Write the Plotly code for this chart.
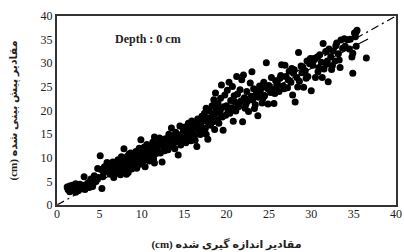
import plotly.graph_objects as go

pts = [
 (1.2,3.8),(1.3,3.3),(1.4,3.6),(1.5,4.0),(1.6,3.1),(1.7,3.7),(1.8,4.2),(1.9,3.4),(1.5,2.8),
 (2.0,3.9),(2.1,3.2),(2.2,4.5),(2.3,3.6),(2.4,4.1),(2.5,3.0),(2.6,3.8),(2.7,4.4),(2.8,3.4),(2.9,3.9),(2.2,2.7),
 (3.0,3.6),(3.1,4.2),(3.2,6.0),(3.3,3.3),(3.5,3.9),(3.6,4.6),(3.8,3.7),(3.9,5.0),
 (4.0,5.5),(4.2,3.9),(4.4,6.2),(4.6,5.0),(4.8,7.7),(4.9,5.8),(4.3,4.6),
 (5.1,10.4),(5.3,3.5),(5.2,7.5),(5.5,6.8),(5.6,8.1),(5.8,7.3),(5.9,9.0),(5.4,6.0),
 (6.0,7.6),(6.2,8.5),(6.3,6.5),(6.5,7.9),(6.6,9.1),(6.7,5.8),(6.8,8.3),(6.9,7.1),(6.4,8.9),
 (7.0,8.8),(7.1,6.7),(7.2,9.6),(7.3,7.8),(7.4,8.4),(7.5,6.4),(7.6,10.2),(7.7,9.0),(7.8,7.4),(7.9,11.9),(7.5,8.0),(7.8,8.6),
 (8.0,9.5),(8.1,7.1),(8.2,8.2),(8.3,10.3),(8.4,6.9),(8.5,9.0),(8.6,8.0),(8.7,11.0),(8.8,7.6),(8.9,9.8),(8.2,6.5),(8.5,10.8),
 (9.0,8.4),(9.1,10.1),(9.2,9.2),(9.3,11.3),(9.4,7.8),(9.5,10.6),(9.6,9.0),(9.7,12.0),(9.8,10.0),(9.9,13.8),(9.5,8.3),
 (10.0,8.7),(10.1,11.4),(10.2,10.3),(10.3,12.3),(10.4,9.5),(10.5,11.0),(10.6,12.8),(10.7,10.0),(10.8,11.8),(10.9,9.3),(10.4,8.1),
 (11.0,12.5),(11.1,10.7),(11.2,11.7),(11.3,13.3),(11.4,9.8),(11.5,14.4),(11.6,12.0),(11.7,10.9),(11.8,13.0),(11.9,11.4),(11.5,8.9),
 (12.0,12.6),(12.1,14.2),(12.2,11.0),(12.4,9.1),(12.5,13.4),(12.6,12.1),(12.7,11.5),(12.8,14.0),(12.9,12.9),(12.3,13.8),
 (13.0,13.1),(13.1,11.7),(13.2,15.0),(13.3,12.4),(13.5,16.3),(13.6,13.6),(13.7,12.8),(13.8,14.6),(13.9,11.9),(13.4,14.0),
 (14.0,15.4),(14.1,13.4),(14.3,10.6),(14.4,14.3),(14.5,16.7),(14.6,12.7),(14.7,15.0),(14.8,13.9),(14.9,16.1),(14.2,14.8),
 (15.0,14.4),(15.1,16.5),(15.2,13.2),(15.3,15.5),(15.5,17.3),(15.6,14.1),(15.7,16.0),(15.8,13.6),(15.9,17.8),(15.4,15.0),
 (16.0,15.2),(16.1,17.0),(16.2,14.6),(16.3,16.4),(16.5,12.4),(16.6,18.2),(16.7,15.8),(16.8,17.5),(16.9,14.9),(16.4,16.9),(16.3,13.7),
 (17.0,16.6),(17.1,18.8),(17.2,15.4),(17.3,17.9),(17.5,16.2),(17.6,20.5),(17.7,18.4),(17.8,13.9),(17.9,17.1),(17.4,19.4),(17.6,15.0),
 (18.0,19.9),(18.1,16.9),(18.2,18.6),(18.3,21.0),(18.4,17.6),(18.5,19.2),(18.6,16.0),(18.7,23.7),(18.8,20.3),(18.9,18.0),(18.5,22.3),
 (19.0,21.5),(19.1,17.3),(19.2,19.6),(19.3,22.6),(19.4,25.4),(19.5,18.6),(19.6,15.8),(19.7,20.8),(19.8,23.3),(19.9,19.0),(19.3,20.2),
 (20.0,21.0),(20.1,24.3),(20.3,26.0),(20.4,19.4),(20.5,22.1),(20.6,20.6),(20.8,17.7),(20.9,23.1),(20.2,20.0),(20.7,25.1),
 (21.0,21.8),(21.1,19.9),(21.2,27.2),(21.3,23.5),(21.4,20.8),(21.6,24.4),(21.7,22.0),(21.9,17.6),(21.8,26.5),(21.5,21.0),
 (22.0,27.5),(22.1,22.7),(22.2,20.5),(22.4,24.0),(22.5,22.0),(22.6,19.8),(22.8,25.8),(22.9,23.0),(22.3,21.4),(22.7,22.5),
 (23.0,28.2),(23.1,22.2),(23.2,24.6),(23.4,21.2),(23.5,23.5),(23.7,18.9),(23.8,22.8),(23.9,25.2),(23.3,20.4),(23.6,23.9),
 (24.0,24.2),(24.2,21.6),(24.4,26.0),(24.5,23.1),(24.7,30.1),(24.8,24.8),(24.9,21.4),(24.3,22.6),(24.6,25.0),
 (25.0,25.3),(25.2,23.8),(25.4,24.5),(25.6,21.5),(25.8,26.3),(25.9,25.0),(25.3,27.0),(25.7,23.6),
 (26.0,25.8),(26.2,24.0),(26.4,27.4),(26.5,29.7),(26.7,25.2),(26.9,29.6),(26.3,26.8),(26.8,24.6),
 (27.0,27.2),(27.2,24.8),(27.4,28.3),(27.6,26.0),(27.8,23.3),(27.9,27.9),(27.3,26.5),(27.7,28.9),
 (28.0,28.6),(28.1,21.8),(28.3,27.0),(28.5,32.3),(28.6,26.2),(28.8,29.4),(28.9,28.0),(28.4,25.0),
 (29.0,29.2),(29.1,24.9),(29.3,28.4),(29.5,30.5),(29.6,27.2),(29.8,29.9),(29.9,31.0),(29.4,26.8),
 (30.0,24.2),(30.2,29.6),(30.4,30.8),(30.5,27.0),(30.7,31.3),(30.9,29.0),(30.3,31.0),(30.8,28.2),
 (31.0,31.8),(31.2,30.2),(31.4,34.2),(31.5,28.8),(31.7,32.5),(31.9,30.5),(31.3,27.0),(31.8,29.8),
 (32.0,26.1),(32.1,33.0),(32.3,31.4),(32.5,29.5),(32.6,32.6),(32.8,30.5),(32.9,33.7),(32.4,28.7),
 (33.0,34.3),(33.2,32.0),(33.4,29.1),(33.5,34.9),(33.7,33.2),(33.9,35.2),(33.3,30.7),
 (34.0,33.6),(34.3,35.0),(34.6,35.1),(34.9,27.9),(34.8,31.3),(34.9,32.1),(34.5,33.0),
 (35.1,36.4),(35.3,36.6),(35.4,37.0),(35.3,33.6),(36.5,31.1),(35.2,35.6),
]
measured = [p[0] for p in pts]
predicted = [p[1] for p in pts]

# 1:1 line and fitted line endpoints
one_to_one_x = [0, 40]
one_to_one_y = [0, 40]
fit_x = [1.5, 36.7]
fit_slope = 0.93
fit_intercept = 1.0
fit_y = [fit_slope * v + fit_intercept for v in fit_x]

origin_x = [0]
origin_y = [0]

tick_vals = [0, 5, 10, 15, 20, 25, 30, 35, 40]

serif = "Liberation Serif, Times New Roman, serif"
font_fa = "Liberation Serif, DejaVu Serif, DejaVu Sans, serif"

fig = go.Figure()
fig.add_trace(go.Scatter(x=measured, y=predicted, mode="markers",
                         marker=dict(color="black", size=7, line=dict(width=0)),
                         showlegend=False, hoverinfo="skip"))
fig.add_trace(go.Scatter(x=one_to_one_x, y=one_to_one_y, mode="lines",
                         line=dict(color="black", width=1.2, dash="8px,4px,2px,4px"),
                         showlegend=False, hoverinfo="skip"))
fig.add_trace(go.Scatter(x=fit_x, y=fit_y, mode="lines",
                         line=dict(color="black", width=1.3), showlegend=False,
                         hoverinfo="skip"))
fig.add_trace(go.Scatter(x=origin_x, y=origin_y, mode="markers",
                         marker=dict(color="#e03030", size=3), showlegend=False,
                         cliponaxis=False, hoverinfo="skip"))

axis_common = dict(range=[0, 40], tickvals=tick_vals, showgrid=False, zeroline=False,
                   showline=True, linecolor="#333333", linewidth=2, mirror=True,
                   automargin=False,
                   ticks="", tickfont=dict(family=serif, size=12, color="#222222"))

fig.update_layout(
    width=404, height=252,
    margin=dict(l=57, r=8, t=16, b=47, autoexpand=False),
    paper_bgcolor="white", plot_bgcolor="white",
    xaxis=dict(**axis_common, ticklabelstandoff=-3,
               title=dict(text="<b>(cm) مقادیر اندازه گیری شده</b>",
                          font=dict(family=font_fa, size=11, color="#222222"),
                          standoff=20)),
    yaxis=dict(**axis_common,
               title=dict(text="<b>(cm) مقادیر پیش بینی شده</b>",
                          font=dict(family=font_fa, size=11, color="#222222"),
                          standoff=21)),
    annotations=[dict(x=10.7, y=35.2, xref="x", yref="y", showarrow=False,
                      text="<b>Depth : 0 cm</b>",
                      font=dict(family=serif, size=12, color="#222222"))],
)

fig.write_html(
    "out.html",
    config={"displayModeBar": False, "staticPlot": True},
    post_script="document.body.style.margin='0';"
                "document.documentElement.style.overflow='hidden';"
                "document.body.style.overflow='hidden';",
)
